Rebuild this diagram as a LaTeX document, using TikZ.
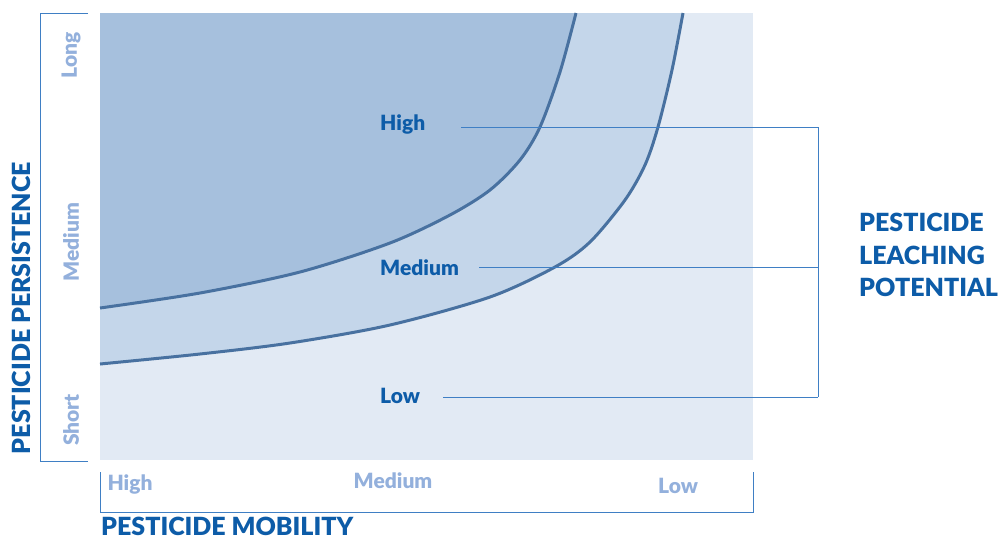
\documentclass[tikz,border=0pt]{standalone}
\usepackage{fontspec}
\setmainfont{Lato}[BoldFont={Lato Black}]
\definecolor{titleblue}{RGB}{13,92,168}
\definecolor{ticklight}{RGB}{147,176,220}
\definecolor{brkblue}{RGB}{63,127,196}
\definecolor{curveblue}{RGB}{72,113,160}
\definecolor{zonelow}{RGB}{226,234,244}
\definecolor{zonemid}{RGB}{196,214,234}
\definecolor{zonehigh}{RGB}{166,192,221}
\begin{document}
\begin{tikzpicture}[x=1pt,y=-1pt,
				every node/.style={inner sep=0pt},
				title/.style={font=\bfseries\fontsize{25}{32.5}\selectfont,text=titleblue},
				tick/.style={font=\bfseries\fontsize{21}{24}\selectfont,text=ticklight},
				level/.style={font=\bfseries\fontsize{21}{24}\selectfont,text=titleblue,anchor=base west},
				brk/.style={draw=brkblue,line width=1pt},
				curve/.style={draw=curveblue,line width=3pt}]
\useasboundingbox (0,0) rectangle (1001,539);
% zones
\fill[zonelow] (100,13) rectangle (753,460);
\fill[zonemid] (100,13) -- plot[smooth] coordinates {(100,364) (200,354) (290,343) (390,325) (490,297) (555,267) (590,242) (625,200) (645,165) (658,127) (672,70) (683,13)} -- cycle;
\fill[zonehigh] (100,13) -- plot[smooth] coordinates {(100,308) (200,293) (300,272) (390,243) (450,215) (490,190) (520,160) (540,127) (560,72) (576,13)} -- cycle;
\draw[curve] plot[smooth] coordinates {(100,364) (200,354) (290,343) (390,325) (490,297) (555,267) (590,242) (625,200) (645,165) (658,127) (672,70) (683,13)};
\draw[curve] plot[smooth] coordinates {(100,308) (200,293) (300,272) (390,243) (450,215) (490,190) (520,160) (540,127) (560,72) (576,13)};
% persistence
\draw[brk] (88,13) -- (40,13) -- (40,461) -- (88,461);
\node[tick,rotate=90] (plong) at (71,55) {Long};
\node[tick,rotate=90] (pmed) at (71,242) {Medium};
\node[tick,rotate=90] (pshort) at (71,420) {Short};
\node[title,rotate=90] (persist) at (21,308) {PESTICIDE PERSISTENCE};
% mobility
\draw[brk] (100,472) -- (100,512) -- (753,512) -- (753,472);
\node[tick] (mhigh) at (130,484) {High};
\node[tick] (mmed) at (393,481) {Medium};
\node[tick] (mlow) at (678,486) {Low};
\node[title,anchor=west] (mobility) at (101,526) {PESTICIDE MOBILITY};
% leaching potential
\node[level] (lhigh) at (380,130) {High};
\node[level] (lmed) at (380,275) {Medium};
\node[level] (llow) at (380,403) {Low};
\coordinate (bhigh) at (818,127);
\coordinate (bmed) at (818,267);
\coordinate (blow) at (818,397);
\draw[brk] (lhigh.east |- bhigh) ++(36,0) -- (bhigh) -- (blow);
\draw[brk] (lmed.east |- bmed) ++(20,0) -- (bmed);
\draw[brk] (llow.east |- blow) ++(23,0) -- (blow);
\node[title,align=left,anchor=west] (leach) at (859,255) {PESTICIDE\\LEACHING\\POTENTIAL};
\end{tikzpicture}
\end{document}
